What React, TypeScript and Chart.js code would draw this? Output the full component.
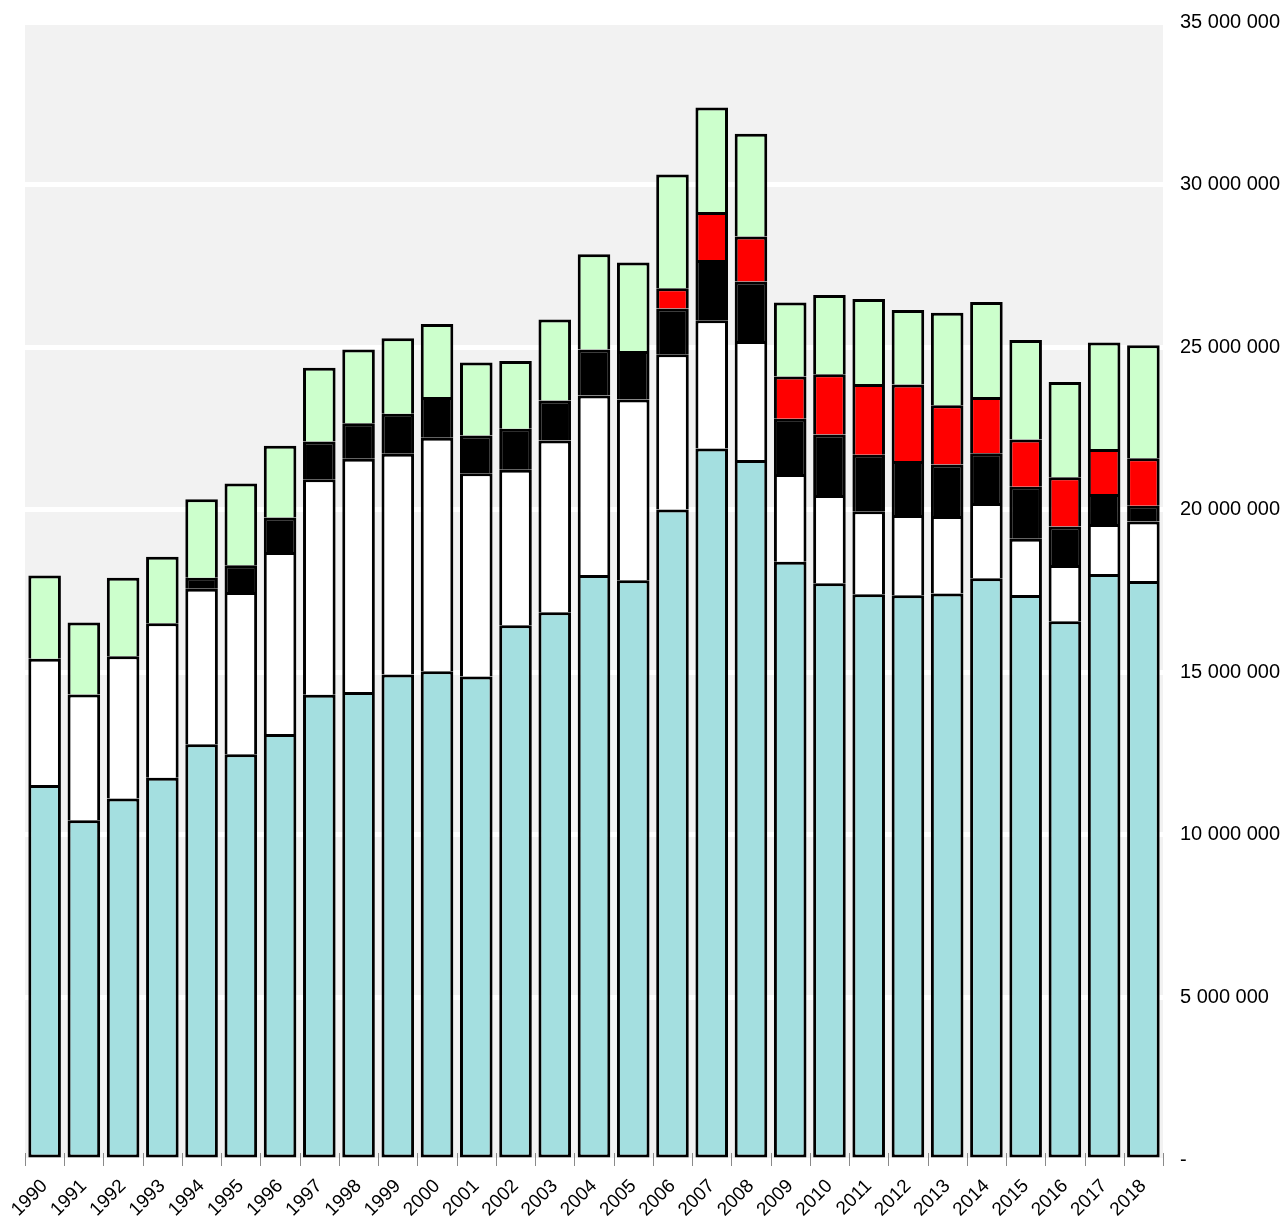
import React, { useEffect, useRef } from "react";
import { Chart, registerables } from "chart.js";

Chart.register(...registerables);

const years = [
  "1990", "1991", "1992", "1993", "1994", "1995", "1996", "1997", "1998", "1999",
  "2000", "2001", "2002", "2003", "2004", "2005", "2006", "2007", "2008", "2009",
  "2010", "2011", "2012", "2013", "2014", "2015", "2016", "2017", "2018",
];

const tealSeries = [
  11530000, 10450000, 11120000, 11760000, 12790000, 12480000, 13100000, 14310000, 14390000, 14930000,
  15030000, 14870000, 16450000, 16850000, 17990000, 17830000, 20010000, 21880000, 21530000, 18400000,
  17740000, 17400000, 17370000, 17420000, 17890000, 17380000, 16570000, 18020000, 17810000,
];

const whiteSeries = [
  3890000, 3870000, 4370000, 4750000, 4780000, 4990000, 5600000, 6630000, 7180000, 6790000,
  7180000, 6250000, 4780000, 5280000, 5520000, 5560000, 4770000, 3950000, 3660000, 2700000,
  2710000, 2550000, 2470000, 2390000, 2320000, 1730000, 1730000, 1540000, 1830000,
];

const blackSeries = [
  null, null, null, null, 340000, 820000, 1060000, 1160000, 1090000, 1230000,
  1260000, 1160000, 1260000, 1230000, 1420000, 1490000, 1410000, 1850000, 1830000, 1700000,
  1860000, 1740000, 1660000, 1580000, 1530000, 1600000, 1180000, 920000, 480000,
];

const redSeries = [
  null, null, null, null, null, null, null, null, null, null,
  null, null, null, null, null, null, 620000, 1480000, 1380000, 1300000,
  1860000, 2180000, 2350000, 1820000, 1730000, 1450000, 1520000, 1390000, 1460000,
];

const greenSeries = [
  2560000, 2210000, 2420000, 2040000, 2410000, 2520000, 2210000, 2270000, 2270000, 2320000,
  2240000, 2250000, 2080000, 2490000, 2930000, 2720000, 3500000, 3210000, 3160000, 2270000,
  2430000, 2610000, 2290000, 2850000, 2920000, 3060000, 2930000, 3270000, 3480000,
];

const yTicks = [0, 5000000, 10000000, 15000000, 20000000, 25000000, 30000000, 35000000];

const formatTick = (v: number) =>
  v === 0 ? "-" : String(Math.round(v)).replace(/\B(?=(\d{3})+(?!\d))/g, " ");

const bgPlugin = {
  id: "plotBg",
  beforeDraw(chart: any) {
    const { ctx, chartArea } = chart;
    ctx.save();
    ctx.fillStyle = "#f2f2f2";
    ctx.fillRect(chartArea.left, chartArea.top, chartArea.right - chartArea.left, chartArea.bottom - chartArea.top);
    ctx.restore();
  },
  afterDatasetsDraw(chart: any) {
    const { ctx, chartArea } = chart;
    const n = years.length;
    const w = (chartArea.right - chartArea.left) / n;
    ctx.save();
    ctx.strokeStyle = "#8a8a8a";
    ctx.lineWidth = 1;
    for (let i = 0; i <= n; i++) {
      const x = Math.round(chartArea.left + i * w) + 0.5;
      ctx.beginPath();
      ctx.moveTo(x, chartArea.bottom - 7);
      ctx.lineTo(x, chartArea.bottom + 6);
      ctx.stroke();
    }
    ctx.restore();
  },
};

const ds = (label: string, data: (number | null)[], color: string, base: boolean) => ({
  label,
  data,
  backgroundColor: color,
  borderColor: "#000000",
  borderWidth: 3,
  borderSkipped: base ? false : "start",
  stack: "s",
});

export default function App() {
  const ref = useRef<HTMLCanvasElement | null>(null);

  useEffect(() => {
    if (!ref.current) return;
    const chart = new Chart(ref.current, {
      type: "bar",
      data: {
        labels: years,
        datasets: [
          ds("teal", tealSeries, "#a4dfe0", true),
          ds("white", whiteSeries, "#ffffff", false),
          ds("black", blackSeries, "#000000", false),
          ds("red", redSeries, "#ff0000", false),
          ds("green", greenSeries, "#ccffcc", false),
        ],
      },
      options: {
        animation: false,
        responsive: false,
        devicePixelRatio: 1,
        layout: { padding: { top: 22, left: 25, right: 0, bottom: 0 } },
        datasets: { bar: { categoryPercentage: 1, barPercentage: 0.83 } },
        plugins: { legend: { display: false }, tooltip: { enabled: false } },
        scales: {
          x: {
            stacked: true,
            grid: { display: false },
            border: { display: false },
            ticks: {
              autoSkip: false,
              maxRotation: 45,
              minRotation: 45,
              padding: 7,
              color: "#000000",
              font: { family: "'Liberation Sans', Arial, sans-serif", size: 19 },
            },
            afterFit(scale: any) {
              scale.height = 56;
              scale.paddingLeft = 0;
              scale.paddingRight = 0;
            },
          },
          y: {
            stacked: true,
            position: "right",
            min: 0,
            max: 35000000,
            afterBuildTicks(scale: any) {
              scale.ticks = yTicks.map((v) => ({ value: v }));
            },
            grid: { color: "#ffffff", lineWidth: 5, drawTicks: false },
            border: { display: false },
            ticks: {
              padding: 17,
              color: "#000000",
              font: { family: "'Liberation Sans', Arial, sans-serif", size: 20 },
              callback: (v: any) => formatTick(Number(v)),
            },
            afterFit(scale: any) {
              scale.width = 124;
              scale.paddingTop = 0;
              scale.paddingBottom = 0;
            },
          },
        },
      },
      plugins: [bgPlugin],
    });
    return () => chart.destroy();
  }, []);

  return (
    <div style={{ position: "absolute", left: 0, top: 0, width: 1287, height: 1216 }}>
      <canvas ref={ref} width={1287} height={1216} style={{ display: "block" }} />
    </div>
  );
}
